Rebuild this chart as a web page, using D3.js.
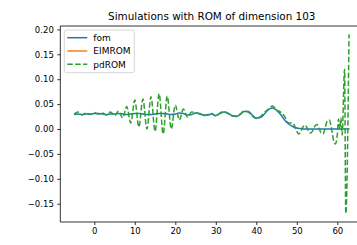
<!DOCTYPE html>
<html>
<head>
<meta charset="utf-8">
<script src="https://cdn.jsdelivr.net/npm/d3@7"></script>
<style>
  body { margin: 0; background: #fff; }
  svg { display: block; font-family: "DejaVu Sans", sans-serif; }
  .tick text { fill: #000; }
</style>
</head>
<body>
<svg id="chart" width="357" height="245"></svg>
<script>
// time grid for the full order model
var fomT = d3.range(-5, 64, 1);
var fomV = [0.029, 0.030, 0.029, 0.030, 0.030, 0.031, 0.031, 0.030, 0.029, 0.030,
  0.030, 0.031, 0.030, 0.029, 0.030, 0.031, 0.031, 0.030, 0.029, 0.029,
  0.030, 0.031, 0.031, 0.030, 0.029, 0.030, 0.032, 0.031, 0.028, 0.029,
  0.032, 0.031, 0.028, 0.028, 0.030, 0.027, 0.031, 0.034, 0.032, 0.027,
  0.025, 0.029, 0.035, 0.035, 0.028, 0.022, 0.023, 0.030, 0.039, 0.042,
  0.038, 0.029, 0.018, 0.010, 0.005, 0.002, 0.001, 0.000, 0.000, 0.000,
  0.000, 0.000, 0.000, 0.000, 0.000, 0.000, 0.000, 0.000, 0.000];

// EIMROM gives no visible curve
var eimT = [];
var eimV = [];

var pdT = [-5, -4, -3, -2, -1, 0, 1, 2, 3, 4, 5, 6, 7, 8, 9, 10, 11, 12, 13, 14,
  15, 16, 17, 18, 19, 20, 21, 22, 23, 24, 25, 26, 27, 28, 29, 30, 31, 32, 33, 34,
  35, 36, 37, 38, 39, 40, 41, 42, 43, 44, 45, 46, 47, 48, 49, 50,
  50.5, 51, 51.5, 52, 52.5, 53, 53.5, 54, 54.5, 55, 55.5, 56, 56.5, 57, 57.5, 58,
  58.5, 59, 59.5, 60, 60.3, 60.6, 60.9, 61.2, 61.8, 62.1, 62.9];
var pdV = [0.030, 0.034, 0.028, 0.033, 0.029, 0.033, 0.030, 0.032, 0.028, 0.034,
  0.027, 0.036, 0.022, 0.045, 0.012, 0.058, 0.004, 0.060, 0.000, 0.065,
  -0.005, 0.071, -0.010, 0.066, 0.000, 0.048, 0.018, 0.040, 0.024, 0.034,
  0.033, 0.030, 0.027, 0.029, 0.031, 0.026, 0.032, 0.035, 0.031, 0.026,
  0.026, 0.030, 0.036, 0.034, 0.026, 0.021, 0.025, 0.033, 0.040, 0.046,
  0.038, 0.034, 0.025, 0.012, 0.012, -0.005,
  -0.010, -0.006, 0.004, 0.008, 0.003, -0.006, -0.008, -0.002, 0.006, 0.009,
  0.002, -0.008, -0.010, 0.002, 0.016, 0.018, 0.005, -0.020, -0.030, -0.012,
  0.020, 0.000, 0.022, -0.012, 0.120, -0.170, 0.190];

var xTicks = [0, 10, 20, 30, 40, 50, 60];
var yTicks = [-0.15, -0.10, -0.05, 0.00, 0.05, 0.10, 0.15, 0.20];
var seriesNames = ["fom", "EIMROM", "pdROM"];
var colors = ["#1f77b4", "#ff7f0e", "#2ca02c"];

var svg = d3.select("#chart");
var mLeft = 60.3, mRight = 363.2, mTop = 26, mBottom = 222;

var x = d3.scaleLinear().domain([-8.4, 66.4]).range([mLeft, mRight]);
var y = d3.scaleLinear().domain([-0.1867, 0.2068]).range([mBottom, mTop]);

// title
svg.append("text")
  .attr("x", (mLeft + mRight) / 2)
  .attr("y", 20.3)
  .attr("text-anchor", "middle")
  .style("font-size", "10.4px")
  .text("Simulations with ROM of dimension 103");

// axes
var fmt = function(d){ return d3.format(".2f")(d).replace("-", "\u2212"); };

var gx = svg.append("g")
  .attr("transform", "translate(0," + mBottom + ")")
  .call(d3.axisBottom(x).tickValues(xTicks).tickSize(3).tickPadding(3).tickFormat(d3.format("d")));
var gy = svg.append("g")
  .attr("transform", "translate(" + mLeft + ",0)")
  .call(d3.axisLeft(y).tickValues(yTicks).tickSize(3).tickPadding(3.5).tickFormat(fmt));
[gx, gy].forEach(function(g){
  g.select(".domain").remove();
  g.selectAll(".tick line").attr("stroke", "#000").attr("stroke-width", 0.8);
  g.selectAll(".tick text").style("font-size", "8.5px").attr("font-family", "DejaVu Sans");
});

// clip to the axes box
svg.append("clipPath").attr("id", "plot-clip")
  .append("rect").attr("x", mLeft).attr("y", mTop).attr("width", mRight - mLeft).attr("height", mBottom - mTop);

var line = d3.line()
  .x(function(d){ return x(d[0]); })
  .y(function(d){ return y(d[1]); })
  .curve(d3.curveMonotoneX);

var series = [
  d3.zip(fomT, fomV),
  d3.zip(eimT, eimV),
  d3.zip(pdT, pdV)
];

var gLines = svg.append("g").attr("clip-path", "url(#plot-clip)");
series.forEach(function(s, i){
  if(s.length == 0) return;
  gLines.append("path")
    .datum(s)
    .attr("d", line)
    .attr("fill", "none")
    .attr("stroke", colors[i])
    .attr("stroke-width", 1.5)
    .attr("stroke-linejoin", "round")
    .attr("stroke-dasharray", i == 2 ? "5.5,2.4" : null);
});

// spines
svg.append("line").attr("x1", mLeft).attr("x2", mLeft).attr("y1", mTop).attr("y2", mBottom)
  .attr("stroke", "#000").attr("stroke-width", 0.8);
svg.append("line").attr("x1", mLeft).attr("x2", mRight).attr("y1", mBottom).attr("y2", mBottom)
  .attr("stroke", "#000").attr("stroke-width", 0.8);
svg.append("line").attr("x1", mLeft).attr("x2", mRight).attr("y1", mTop).attr("y2", mTop)
  .attr("stroke", "#000").attr("stroke-width", 0.8);

// legend
var lg = svg.append("g").attr("transform", "translate(64.3,30)");
lg.append("rect")
  .attr("width", 70).attr("height", 42.7)
  .attr("rx", 2)
  .attr("fill", "#fff").attr("fill-opacity", 0.8)
  .attr("stroke", "#ccc").attr("stroke-width", 0.8);
seriesNames.forEach(function(name, i){
  var cy = 7.7 + i * 13.3;
  lg.append("line")
    .attr("x1", 3).attr("x2", 23).attr("y1", cy).attr("y2", cy)
    .attr("stroke", colors[i]).attr("stroke-width", 1.5)
    .attr("stroke-dasharray", i == 2 ? "5.5,2.4" : null);
  lg.append("text")
    .attr("x", 29).attr("y", cy + 3.2)
    .style("font-size", "9px")
    .text(name);
});
</script>
</body>
</html>
